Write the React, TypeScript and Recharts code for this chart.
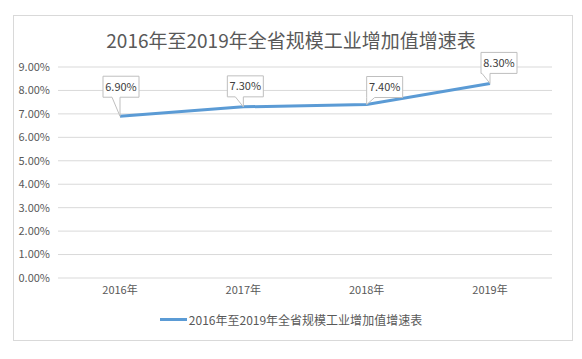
import { CartesianGrid, LabelList, Line, LineChart, XAxis, YAxis } from "recharts"

const years = ["2016年", "2017年", "2018年", "2019年"]
const growth = [6.9, 7.3, 7.4, 8.3]
const yTicks = [0, 1, 2, 3, 4, 5, 6, 7, 8, 9]
const seriesName = "2016年至2019年全省规模工业增加值增速表"
const title = "2016年至2019年全省规模工业增加值增速表"

const data = years.map((year, i) => ({ year, value: growth[i] }))

// callout box placement relative to each point (box left, gap above point)
const calloutOffsets = [
  { dx: -17, gap: 19 },
  { dx: -16, gap: 10 },
  { dx: 0, gap: 7 },
  { dx: -9, gap: 10 },
]

const FONT = "'Noto Sans CJK SC', 'Liberation Sans', sans-serif"
const TEXT = "#595959"
const BOX_W = 36
const BOX_H = 21

function Callout(props: any) {
  const { x, y, value, index } = props
  const off = calloutOffsets[index] ?? { dx: -18, gap: 10 }
  const bx = x + off.dx
  const by = y - off.gap - BOX_H
  const bottom = by + BOX_H
  const t1 = Math.max(bx, Math.min(x - 8, bx + BOX_W - 10))
  const t2 = t1 + 8
  const d = `M${bx},${by} H${bx + BOX_W} V${bottom} H${t2} L${x},${y} L${t1},${bottom} H${bx} Z`
  return (
    <g>
      <path d={d} fill="#fff" stroke="#bfbfbf" strokeWidth={1} />
      <text
        x={bx + BOX_W / 2}
        y={by + BOX_H / 2 + 4}
        textAnchor="middle"
        fontSize={11}
        fontFamily={FONT}
        fill="#404040"
      >
        {Number(value).toFixed(2)}%
      </text>
    </g>
  )
}

export default function App() {
  return (
    <div style={{ position: "absolute", left: 0, top: 0, width: 582, height: 359, background: "#fff" }}>
      <div
        style={{
          position: "absolute",
          left: 13,
          top: 15,
          width: 558,
          height: 324,
          border: "1px solid #d9d9d9",
        }}
      />
      <div
        style={{
          position: "absolute",
          left: 0,
          top: 27,
          width: 582,
          textAlign: "center",
          fontFamily: FONT,
          fontSize: 19,
          color: TEXT,
          lineHeight: "26px",
        }}
      >
        {title}
      </div>
      <LineChart
        width={582}
        height={359}
        data={data}
        margin={{ top: 67, right: 30, bottom: 51, left: 0 }}
        style={{ position: "absolute", left: 0, top: 0 }}
      >
        <CartesianGrid vertical={false} stroke="#d9d9d9" />
        <XAxis
          dataKey="year"
          height={30}
          padding={{ left: 62, right: 62 }}
          axisLine={false}
          tickLine={false}
          tick={{ fill: TEXT, fontSize: 11, fontFamily: FONT }}
        />
        <YAxis
          width={58}
          domain={[0, 9]}
          ticks={yTicks}
          axisLine={false}
          tickLine={false}
          tickFormatter={(v) => `${Number(v).toFixed(2)}%`}
          tick={{ fill: TEXT, fontSize: 11, fontFamily: FONT }}
        />
        <Line
          dataKey="value"
          name={seriesName}
          stroke="#5B9BD5"
          strokeWidth={3}
          dot={false}
          isAnimationActive={false}
        >
          <LabelList dataKey="value" content={<Callout />} />
        </Line>
      </LineChart>
      <div
        style={{
          position: "absolute",
          left: 0,
          top: 311,
          width: 582,
          display: "flex",
          justifyContent: "center",
          alignItems: "center",
          fontFamily: FONT,
          fontSize: 12,
          color: TEXT,
        }}
      >
        <span style={{ display: "inline-block", width: 27, height: 3, background: "#5B9BD5", marginRight: 2 }} />
        <span>{seriesName}</span>
      </div>
    </div>
  )
}
